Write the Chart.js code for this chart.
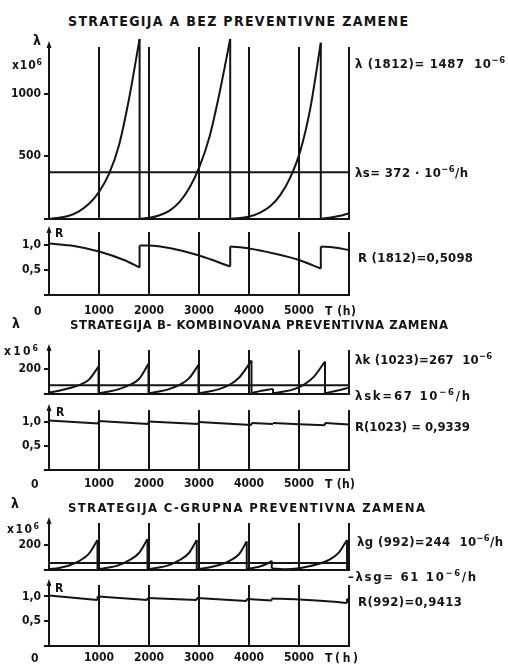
<!DOCTYPE html>
<html><head><meta charset="utf-8">
<script src="https://cdn.jsdelivr.net/npm/chart.js@4"></script>
<style>
html,body{margin:0;padding:0;background:#fff;width:508px;height:667px;overflow:hidden;}
#wrap{position:relative;width:508px;height:667px;}
canvas{position:absolute;left:0;}
.t{position:absolute;white-space:nowrap;font-family:'DejaVu Sans Condensed','DejaVu Sans',sans-serif;font-stretch:condensed;font-weight:bold;color:#141414;line-height:1;}
.t sup{font-size:0.72em;vertical-align:0.5em;line-height:0;}
</style></head><body><div id="wrap"></div>
<script>
// ---------- data ----------
const X_TICKS = [0, 1000, 2000, 3000, 4000, 5000, 6000];
const X_LABELS = ['', '1000', '2000', '3000', '4000', '5000', ''];

// Strategy A: lambda (x10^-6 /h), one array per run between replacements
const A_LAMBDA_T = [
  [0, 200, 400, 600, 800, 1000, 1200, 1400, 1600, 1812],
  [1812, 2012, 2212, 2412, 2612, 2812, 3012, 3212, 3412, 3624],
  [3624, 3824, 4024, 4224, 4424, 4624, 4824, 5024, 5224, 5436],
  [5436, 5600, 5800, 6000]
];
const A_LAMBDA = [
  [0, 8, 25, 60, 120, 215, 360, 590, 960, 1440],
  [0, 8, 28, 65, 135, 250, 420, 660, 1010, 1440],
  [0, 6, 20, 50, 100, 190, 330, 540, 880, 1410],
  [0, 8, 22, 45]
];
const A_LAMBDA_S = 372;
const A_LAMBDA_TICKS = [0, 500, 1000];
const A_R_T = [
  [0, 500, 1000, 1500, 1812],
  [1812, 2000, 2500, 3000, 3624],
  [3624, 4000, 4500, 5000, 5436],
  [5436, 5700, 6000]
];
const A_R = [
  [1.03, 0.98, 0.87, 0.70, 0.55],
  [0.99, 0.99, 0.92, 0.79, 0.57],
  [0.97, 0.93, 0.83, 0.70, 0.53],
  [0.97, 0.95, 0.90]
];

// Strategy B
const B_LAMBDA_T = [
  [0, 200, 400, 600, 800, 990],
  [990, 1200, 1400, 1600, 1800, 1990],
  [1990, 2200, 2400, 2600, 2800, 2990],
  [2990, 3200, 3400, 3600, 3800, 4050],
  [4050, 4250, 4480],
  [4480, 4700, 4900, 5100, 5300, 5520],
  [5520, 5750, 6000]
];
const B_LAMBDA = [
  [10, 25, 45, 70, 115, 222],
  [5, 18, 38, 70, 120, 243],
  [5, 18, 38, 70, 125, 235],
  [5, 18, 38, 70, 130, 270],
  [5, 25, 40],
  [5, 18, 38, 75, 140, 262],
  [5, 25, 50]
];
const B_LAMBDA_S = 70;
const B_LAMBDA_TICKS = [0, 200];
const B_R_T = [[0, 990], [990, 1990], [1990, 2990], [2990, 4050], [4050, 4480], [4480, 5520], [5520, 6000]];
const B_R = [[1.03, 0.97], [1.02, 0.96], [1.01, 0.96], [1.0, 0.94], [0.98, 0.96], [0.98, 0.93], [0.98, 0.95]];

// Strategy C
const C_LAMBDA_T = [
  [0, 200, 400, 600, 800, 970],
  [970, 1200, 1400, 1600, 1800, 1970],
  [1970, 2200, 2400, 2600, 2800, 2955],
  [2955, 3200, 3400, 3600, 3800, 3955],
  [3955, 4150, 4350, 4455],
  [4455, 4700, 5000, 5200, 5450, 5600, 5800, 5960],
  [5960, 6000]
];
const C_LAMBDA = [
  [5, 15, 35, 70, 130, 240],
  [5, 18, 38, 75, 135, 248],
  [5, 18, 38, 75, 135, 240],
  [5, 18, 38, 70, 125, 227],
  [5, 20, 45, 72],
  [10, 5, 12, 28, 55, 80, 140, 240],
  [5, 8]
];
const C_LAMBDA_S = 55;
const C_LAMBDA_TICKS = [0, 200];
const C_R_T = [[0, 970], [970, 1970], [1970, 2955], [2955, 3955], [3955, 4455], [4455, 5000, 5500, 5960], [5960, 6000]];
const C_R = [[1.02, 0.93], [1.0, 0.93], [0.97, 0.93], [0.97, 0.91], [0.95, 0.92], [0.96, 0.94, 0.91, 0.87], [0.95, 0.95]];

const R_TICKS = [0, 0.5, 1.0];

// ---------- drawing ----------
const INK = '#141414';
const FONT = "'DejaVu Sans Condensed', 'DejaVu Sans', sans-serif";
const wrap = document.getElementById('wrap');

const arrowPlugin = {
  id: 'arrow',
  afterDraw(chart) {
    const { ctx, chartArea: { left, top } } = chart;
    ctx.save();
    ctx.strokeStyle = INK; ctx.fillStyle = INK; ctx.lineWidth = 2;
    ctx.beginPath(); ctx.moveTo(left, top + 2); ctx.lineTo(left, top - 2); ctx.stroke();
    ctx.beginPath(); ctx.moveTo(left, top - 6); ctx.lineTo(left - 2.5, top + 1); ctx.lineTo(left + 2.5, top + 1); ctx.closePath(); ctx.fill();
    ctx.restore();
  }
};

function lineDs(points, mono) {
  return {
    data: points, borderColor: INK, borderWidth: 2, pointRadius: 0, fill: false,
    cubicInterpolationMode: mono ? 'monotone' : 'default', tension: 0, clip: false
  };
}

function panel(cfg) {
  const padTop = 16;
  const bottomExtra = cfg.xPad != null ? 32 : 10;
  const xAxisH = cfg.xPad != null ? 26 : 0;
  const cTop = cfg.areaTop - padTop;
  const canvas = document.createElement('canvas');
  canvas.width = 360;
  canvas.height = cfg.areaBottom - cTop + bottomExtra;
  canvas.style.top = cTop + 'px';
  wrap.appendChild(canvas);

  const datasets = [];
  cfg.segT.forEach((ts, i) => {
    datasets.push(lineDs(ts.map((t, j) => ({ x: t, y: cfg.segV[i][j] })), true));
    if (i < cfg.segT.length - 1) {
      const tEnd = ts[ts.length - 1];
      datasets.push(lineDs([
        { x: tEnd, y: cfg.segV[i][cfg.segV[i].length - 1] },
        { x: cfg.segT[i + 1][0], y: cfg.segV[i + 1][0] }
      ], false));
    }
  });
  if (cfg.hLine != null) {
    datasets.push(lineDs([{ x: 0, y: cfg.hLine }, { x: 6000, y: cfg.hLine }], false));
  }

  new Chart(canvas, {
    type: 'line',
    data: { datasets },
    options: {
      responsive: false, animation: false, events: [],
      layout: { padding: { top: padTop, right: 11, bottom: bottomExtra - xAxisH, left: 0 } },
      plugins: { legend: { display: false }, tooltip: { enabled: false } },
      scales: {
        x: {
          type: 'linear', min: 0, max: 6000,
          afterBuildTicks: s => { s.ticks = X_TICKS.map(v => ({ value: v })); },
          afterFit: s => { s.height = xAxisH; },
          grid: { color: INK, lineWidth: 2, drawTicks: false },
          border: { color: INK, width: 2 },
          ticks: {
            display: cfg.xPad != null, padding: cfg.xPad || 0, maxRotation: 0, autoSkip: false,
            font: { family: FONT, size: 12, weight: 'bold' }, color: INK,
            callback: v => X_LABELS[X_TICKS.indexOf(v)]
          }
        },
        y: {
          type: 'linear', min: 0, max: cfg.yMax,
          afterBuildTicks: s => { s.ticks = cfg.yTicks.map(v => ({ value: v })); },
          afterFit: s => { s.width = 49; },
          grid: { drawOnChartArea: false, drawTicks: true, tickLength: 5, color: INK, lineWidth: 2 },
          border: { color: INK, width: 2 },
          ticks: { padding: 3, font: { family: FONT, size: 12, weight: 'bold' }, color: INK, callback: cfg.fmt }
        }
      }
    },
    plugins: [arrowPlugin]
  });
}

const fmtL = v => (v === 0 ? '' : String(v));
const fmtR = v => (v === 0 ? '' : v.toFixed(1).replace('.', ','));

panel({ areaTop: 47, areaBottom: 219, yMax: 1376, yTicks: A_LAMBDA_TICKS, fmt: fmtL, segT: A_LAMBDA_T, segV: A_LAMBDA, hLine: A_LAMBDA_S });
panel({ areaTop: 232, areaBottom: 295, yMax: 1.26, yTicks: R_TICKS, fmt: fmtR, segT: A_R_T, segV: A_R, xPad: 9 });
panel({ areaTop: 350, areaBottom: 394, yMax: 356, yTicks: B_LAMBDA_TICKS, fmt: fmtL, segT: B_LAMBDA_T, segV: B_LAMBDA, hLine: B_LAMBDA_S });
panel({ areaTop: 410, areaBottom: 470, yMax: 1.25, yTicks: R_TICKS, fmt: fmtR, segT: B_R_T, segV: B_R, xPad: 7 });
panel({ areaTop: 523, areaBottom: 570, yMax: 376, yTicks: C_LAMBDA_TICKS, fmt: fmtL, segT: C_LAMBDA_T, segV: C_LAMBDA, hLine: C_LAMBDA_S });
panel({ areaTop: 585, areaBottom: 646, yMax: 1.232, yTicks: R_TICKS, fmt: fmtR, segT: C_R_T, segV: C_R, xPad: 5 });

// ---------- texts ----------
function T(html, x, y, size, width) {
  const d = document.createElement('div');
  d.className = 't';
  d.innerHTML = html;
  d.style.fontSize = size + 'px';
  d.style.left = x + 'px';
  d.style.top = (y - size * 0.5) + 'px';
  wrap.appendChild(d);
  if (width) {
    const w = d.getBoundingClientRect().width;
    const n = [...d.textContent].length;
    if (n > 1) d.style.letterSpacing = ((width - w) / (n - 1)) + 'px';
  }
}
const M6 = '10<sup>−6</sup>';
T('STRATEGIJA A BEZ PREVENTIVNE ZAMENE', 68, 21, 14, 340);
T('λ', 33, 40, 14);
T('x10<sup>6</sup>', 12, 65, 12, 30);
T('λ (1812)= 1487&nbsp; ' + M6, 355, 63, 13, 150);
T('λs= 372 · ' + M6 + '/h', 355, 172, 13, 113);
T('R', 55, 233, 12);
T('R (1812)=0,5098', 358, 257, 13, 115);
T('0', 34, 311, 12);
T('T (h)', 325, 311, 12, 31);

T('λ', 12, 323, 14);
T('STRATEGIJA B- KOMBINOVANA PREVENTIVNA ZAMENA', 70, 324.5, 13, 378);
T('x10<sup>6</sup>', 4, 351, 12, 34);
T('λk (1023)=267&nbsp; ' + M6, 355, 359, 13, 137);
T('λsk=67 ' + M6 + '/h', 355, 395, 13, 115);
T('R', 56, 412, 12);
T('R(1023) = 0,9339', 355, 426, 13, 115);
T('0', 31, 484, 12);
T('T (h)', 325, 484, 12, 30);

T('STRATEGIJA C-GRUPNA PREVENTIVNA ZAMENA', 68, 507, 13, 357);
T('λ', 11, 503, 14);
T('x10<sup>6</sup>', 7, 529, 12, 32);
T('λg (992)=244&nbsp; ' + M6 + '/h', 357, 541, 13, 146);
T('–λsg= 61 ' + M6 + '/h', 348, 576, 13, 128);
T('R', 55, 588, 12);
T('R(992)=0,9413', 358, 601, 13, 104);
T('0', 31, 658, 12);
T('T(h)', 325, 658, 12, 33);
</script></body></html>
